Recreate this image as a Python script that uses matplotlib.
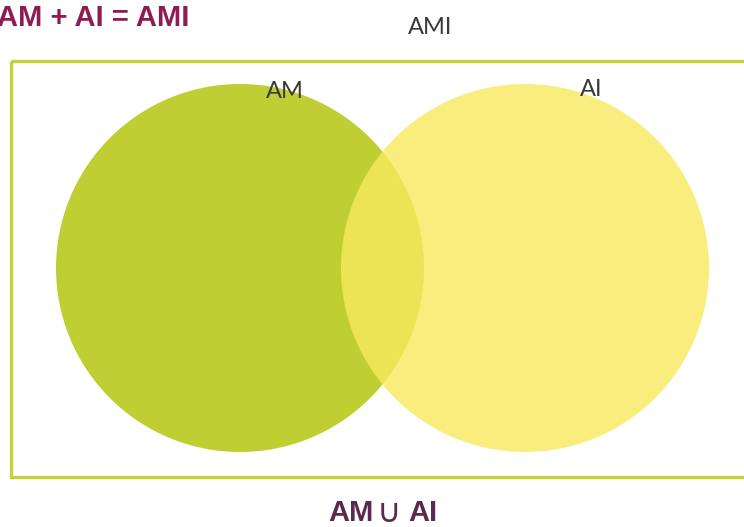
import matplotlib
matplotlib.use("Agg")
import matplotlib.pyplot as plt
from matplotlib.patches import Circle, Rectangle

# Data
set_labels = ["AM", "AI"]
set_sizes = [184, 184]          # circle radii (equal-size sets)
union_label = "AMI"
title_text = "AM + AI = AMI"
bottom_text = ["AM", "\u222A", "AI"]

fig = plt.figure(figsize=(7.44, 5.27), dpi=100)
ax = fig.add_axes([0, 0, 1, 1])
ax.set_xlim(0, 744)
ax.set_ylim(527, 0)
ax.axis("off")

# universe rectangle
ax.add_patch(Rectangle((11, 61), 760, 416, fill=False, edgecolor="#C3D236", linewidth=2.4, zorder=1))

centers = [(240, 268), (525, 268)]
colors = ["#BFCF33", "#F8E95E"]
alphas = [1.0, 0.8]
for (cx, cy), r, c, a in zip(centers, set_sizes, colors, alphas):
    ax.add_patch(Circle((cx, cy), r, facecolor=c, edgecolor="none", alpha=a, zorder=2))

label_pos = [(285, 91), (591, 89)]
for (x, y), lab in zip(label_pos, set_labels):
    ax.text(x, y, lab, ha="center", va="center", fontsize=17, color="#3a3a3a",
            family="Lato", fontweight="normal", zorder=3)

ax.text(430, 27, union_label, ha="center", va="center", fontsize=17, color="#3a3a3a",
        family="Lato", fontweight="normal", zorder=3)

ax.text(-3, 18, title_text, ha="left", va="center", fontsize=21, color="#8E1B52",
        family="Liberation Sans", fontweight="bold", zorder=3)

bx = [351, 389, 423]
for x, t in zip(bx, bottom_text):
    ax.text(x, 513, t, ha="center", va="center", fontsize=21 if t != "\u222A" else 24,
            color="#5A2A4E", family=["Liberation Sans", "DejaVu Sans"],
            fontweight="bold" if t != "\u222A" else "normal", zorder=3)

fig.savefig("out.png", dpi=100)
